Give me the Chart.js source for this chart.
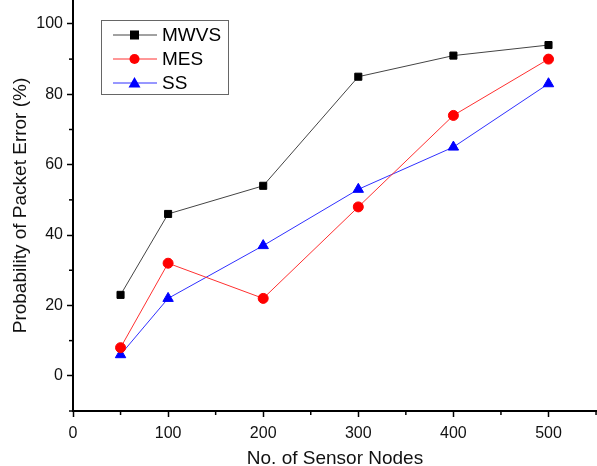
<!DOCTYPE html>
<html>
<head>
<meta charset="utf-8">
<script src="https://cdn.jsdelivr.net/npm/chart.js@4.4.0/dist/chart.umd.min.js"></script>
<style>
  html, body { margin: 0; padding: 0; background: #fff; }
  #wrap { width: 597px; height: 466px; position: relative; }
</style>
</head>
<body>
<div id="wrap"><canvas id="errChart"></canvas></div>
<script>
const nodes = [50, 100, 200, 300, 400, 500];
const mwvs = [23, 46, 54, 85, 91, 94];
const mes = [8, 32, 22, 48, 74, 90];
const ss = [6, 22, 37, 53, 65, 83];
const xTicks = [0, 100, 200, 300, 400, 500];
const yTicks = [0, 20, 40, 60, 80, 100];

const FONT = "'Liberation Sans', Arial, sans-serif";

// minor ticks + legend box drawn inside the plot
const extras = {
    id: 'extras',
    afterDraw(chart) {
        const ctx = chart.ctx;
        const x = chart.scales.x, y = chart.scales.y;
        ctx.save();
        ctx.strokeStyle = '#000';
        ctx.lineWidth = 1.5;
        for (let v = 50; v < x.max; v += 100) {
            const px = x.getPixelForValue(v);
            ctx.beginPath(); ctx.moveTo(px, y.bottom); ctx.lineTo(px, y.bottom + 4); ctx.stroke();
        }
        for (let v = -10; v < y.max; v += 20) {
            const py = y.getPixelForValue(v);
            ctx.beginPath(); ctx.moveTo(x.left, py); ctx.lineTo(x.left - 4, py); ctx.stroke();
        }

        // legend
        ctx.strokeStyle = '#666';
        ctx.lineWidth = 1;
        ctx.strokeRect(101.5, 20.5, 127, 74);
        const items = chart.data.datasets;
        items.forEach((ds, i) => {
            const cy = 35 + i * 24;
            ctx.strokeStyle = ds.borderColor;
            ctx.lineWidth = 1;
            ctx.beginPath(); ctx.moveTo(113, cy); ctx.lineTo(157, cy); ctx.stroke();
            ctx.fillStyle = ds.pointBackgroundColor;
            if (ds.pointStyle === 'rect') {
                ctx.fillRect(130, cy - 4.5, 9, 9);
            } else if (ds.pointStyle === 'circle') {
                ctx.beginPath(); ctx.arc(134.5, cy, 5, 0, Math.PI * 2); ctx.fill();
            } else {
                ctx.beginPath(); ctx.moveTo(134.5, cy - 6); ctx.lineTo(140.5, cy + 4.5); ctx.lineTo(128.5, cy + 4.5); ctx.closePath(); ctx.fill();
            }
            ctx.fillStyle = '#000';
            ctx.font = '19px ' + FONT;
            ctx.textBaseline = 'middle';
            ctx.fillText(ds.label, 162, cy + 1);
        });
        ctx.restore();
    }
};

new Chart(document.getElementById('errChart'), {
    type: 'line',
    data: {
        datasets: [
            {
                label: 'MWVS',
                data: nodes.map((n, i) => ({ x: n, y: mwvs[i] })),
                borderColor: '#444',
                borderWidth: 1,
                pointStyle: 'rect',
                pointRadius: 5,
                pointBackgroundColor: '#000',
                pointBorderColor: '#000'
            },
            {
                label: 'MES',
                data: nodes.map((n, i) => ({ x: n, y: mes[i] })),
                borderColor: '#ff3030',
                borderWidth: 1,
                pointStyle: 'circle',
                pointRadius: 5,
                pointBackgroundColor: '#ff0000',
                pointBorderColor: '#ff0000'
            },
            {
                label: 'SS',
                data: nodes.map((n, i) => ({ x: n, y: ss[i] })),
                borderColor: '#3030ff',
                borderWidth: 1,
                pointStyle: 'triangle',
                pointRadius: 6,
                pointBackgroundColor: '#0000ff',
                pointBorderColor: '#0000ff'
            }
        ]
    },
    options: {
        responsive: true,
        maintainAspectRatio: false,
        animation: false,
        layout: { padding: 0, autoPadding: false },
        plugins: {
            legend: { display: false },
            tooltip: { enabled: false }
        },
        scales: {
            x: {
                type: 'linear',
                min: 0,
                max: 551,
                afterBuildTicks: s => { s.ticks = xTicks.map(v => ({ value: v })); },
                afterFit: s => { s.height = 55; s.paddingLeft = 0; s.paddingRight = 0; },
                grid: { drawOnChartArea: false, drawTicks: true, tickLength: 6, tickColor: '#000', tickWidth: 1.5 },
                border: { color: '#000', width: 2 },
                ticks: { color: '#111', font: { family: FONT, size: 16 }, padding: 7, maxRotation: 0 },
                title: { display: true, text: 'No. of Sensor Nodes', color: '#111', font: { family: FONT, size: 19 }, padding: { top: 0, bottom: -4 } }
            },
            y: {
                type: 'linear',
                min: -10,
                max: 106.8,
                afterBuildTicks: s => { s.ticks = yTicks.map(v => ({ value: v })); },
                afterFit: s => { s.width = 73; s.paddingTop = 0; s.paddingBottom = 0; },
                grid: { drawOnChartArea: false, drawTicks: true, tickLength: 6, tickColor: '#000', tickWidth: 1.5 },
                border: { color: '#000', width: 2 },
                ticks: { color: '#111', font: { family: FONT, size: 16 }, padding: 4 },
                title: { display: true, text: 'Probability of Packet Error (%)', color: '#111', font: { family: FONT, size: 19 }, padding: { top: 9, bottom: 0 } }
            }
        }
    },
    plugins: [extras]
});
</script>
</body>
</html>
